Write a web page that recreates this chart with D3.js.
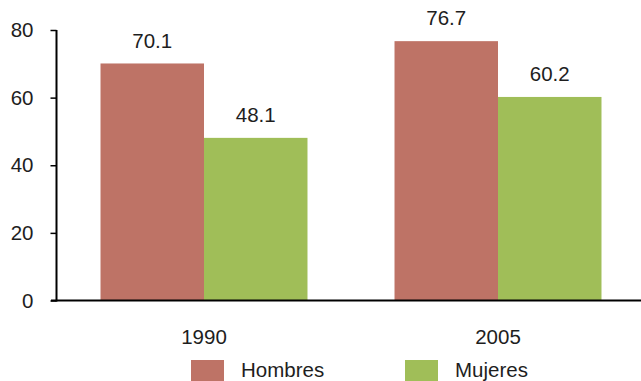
<!DOCTYPE html>
<html><head><meta charset="utf-8">
<script src="https://cdn.jsdelivr.net/npm/d3@7"></script>
<style>body{margin:0;background:#fff}svg{display:block}text{font-family:"Liberation Sans",Arial,sans-serif;fill:#1e1e1e}</style>
</head><body>
<svg id="c" width="641" height="381"></svg>
<script>
const categories = ["1990", "2005"];
const seriesNames = ["Hombres", "Mujeres"];
const hombres = [70.1, 76.7];
const mujeres = [48.1, 60.2];
const yTicks = [0, 20, 40, 60, 80];
const colors = ["#BE7366", "#A0BE58"];

const FS = 20.5;
const svg = d3.select("#c");
const x0 = d3.scaleBand().domain(categories).range([57, 645]).paddingInner(0.296).paddingOuter(0.148);
const x1 = d3.scaleBand().domain(seriesNames).range([0, x0.bandwidth()]);
const y = d3.scaleLinear().domain([0, 80]).range([300.5, 30]);

const data = categories.map((c, i) => ({cat: c, vals: [hombres[i], mujeres[i]]}));

const g = svg.selectAll("g.grp").data(data).join("g").attr("class", "grp")
  .attr("transform", d => `translate(${x0(d.cat)},0)`);
g.selectAll("rect").data(d => d.vals.map((v, j) => ({v, s: seriesNames[j], j})))
  .join("rect")
  .attr("x", d => x1(d.s)).attr("width", x1.bandwidth())
  .attr("y", d => y(d.v)).attr("height", d => y(0) - y(d.v))
  .attr("fill", d => colors[d.j]);
g.selectAll("text.val").data(d => d.vals.map((v, j) => ({v, s: seriesNames[j]})))
  .join("text").attr("class", "val")
  .attr("x", d => x1(d.s) + x1.bandwidth() / 2).attr("y", d => y(d.v) - 15.7)
  .attr("text-anchor", "middle").attr("font-size", FS)
  .text(d => d.v.toFixed(1));

// y axis
const ya = svg.append("g").attr("transform", "translate(56.5,0)")
  .call(d3.axisLeft(y).tickValues(yTicks).tickSize(6).tickPadding(17).tickFormat(d3.format("d")));
ya.select(".domain").attr("stroke", "#000").attr("stroke-width", 2).attr("d", `M0,${y(80)}V${y(0)+1}`);
ya.selectAll(".tick line").attr("stroke", "#000").attr("stroke-width", 1.5);
ya.selectAll(".tick text").attr("font-size", FS).attr("fill", "#1e1e1e").attr("font-family", "Liberation Sans, Arial, sans-serif");

// x axis
svg.append("line").attr("x1", 51).attr("x2", 641).attr("y1", y(0)).attr("y2", y(0))
  .attr("stroke", "#000").attr("stroke-width", 2);
svg.selectAll("text.cat").data(categories).join("text").attr("class", "cat")
  .attr("x", d => x0(d) + x0.bandwidth() / 2).attr("y", 343.5)
  .attr("text-anchor", "middle").attr("font-size", FS).text(d => d);

// legend
const legX = [191, 405];
const leg = svg.selectAll("g.leg").data(seriesNames).join("g").attr("class", "leg")
  .attr("transform", (d, i) => `translate(${legX[i]},360)`);
leg.append("rect").attr("width", 33).attr("height", 21).attr("fill", (d, i) => colors[i]);
leg.append("text").attr("x", 50).attr("y", 16.5).attr("font-size", FS).text(d => d);
</script>
</body></html>
